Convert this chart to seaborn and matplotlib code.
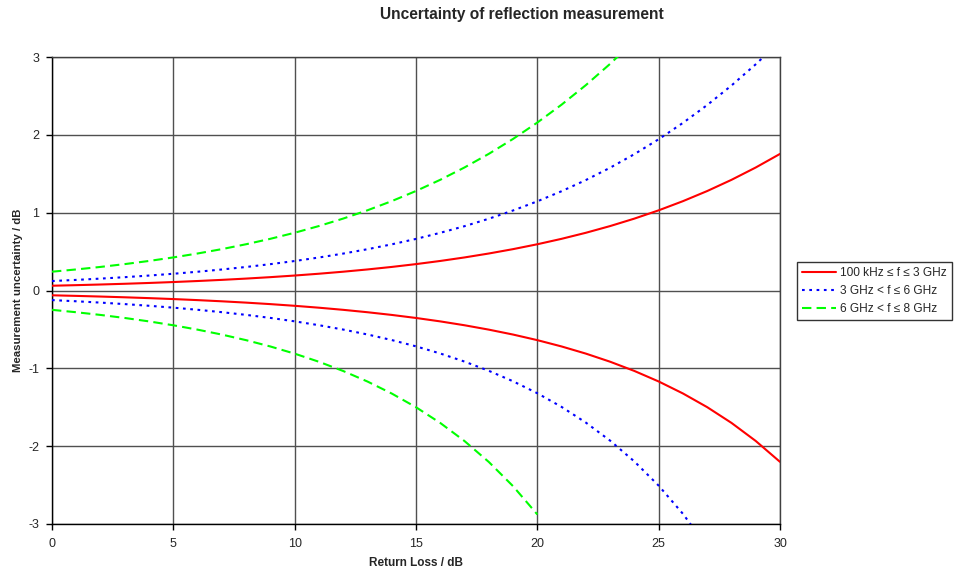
import numpy as np
import pandas as pd
import matplotlib
matplotlib.use("Agg")
import matplotlib.pyplot as plt
import seaborn as sns

# Return loss (dB)
rl_red = list(range(0, 31))
red_upper = [0.0613, 0.0687, 0.0770, 0.0864, 0.0969, 0.1087, 0.1219, 0.1366, 0.1531, 0.1716,
             0.1923, 0.2155, 0.2415, 0.2705, 0.3028, 0.3391, 0.3796, 0.4248, 0.4753, 0.5315,
             0.5942, 0.6640, 0.7416, 0.8279, 0.9237, 1.0300, 1.1478, 1.2779, 1.4217, 1.5803, 1.7549]
red_lower = [-0.0617, -0.0692, -0.0777, -0.0873, -0.0980, -0.1100, -0.1236, -0.1388, -0.1558, -0.1750,
             -0.1967, -0.2210, -0.2484, -0.2792, -0.3138, -0.3529, -0.3969, -0.4466, -0.5028, -0.5661,
             -0.6378, -0.7190, -0.8109, -0.9151, -1.0338, -1.1688, -1.3229, -1.4989, -1.7009, -1.9332, -2.2015]

rl_blue_up = list(range(0, 31))
blue_upper = [0.1216, 0.1363, 0.1528, 0.1713, 0.1920, 0.2151, 0.2410, 0.2700, 0.3023, 0.3385,
              0.3789, 0.4240, 0.4743, 0.5305, 0.5931, 0.6628, 0.7412, 0.8264, 0.9221, 1.0282,
              1.1457, 1.2757, 1.4192, 1.5775, 1.7519, 1.9433, 2.1533, 2.3829, 2.6335, 2.9063, 3.2026]
rl_blue_lo = list(range(0, 28))
blue_lower = [-0.1233, -0.1385, -0.1556, -0.1748, -0.1963, -0.2205, -0.2478, -0.2786, -0.3132, -0.3522,
              -0.3962, -0.4458, -0.5018, -0.5650, -0.6366, -0.7175, -0.8093, -0.9134, -1.0317, -1.1665,
              -1.3201, -1.4958, -1.6973, -1.9291, -2.1968, -2.5073, -2.8695, -3.2945]

rl_green_up = list(range(0, 25))
green_upper = [0.2416, 0.2706, 0.3030, 0.3392, 0.3797, 0.4250, 0.4755, 0.5317, 0.5945, 0.6643,
               0.7420, 0.8283, 0.9242, 1.0305, 1.1483, 1.2785, 1.4224, 1.5810, 1.7556, 1.9474,
               2.1577, 2.3878, 2.6388, 2.9122, 3.2090]
rl_green_lo = list(range(0, 21))
green_lower = [-0.2485, -0.2793, -0.3140, -0.3530, -0.3971, -0.4469, -0.5030, -0.5664, -0.6382, -0.7193,
               -0.8113, -0.9157, -1.0344, -1.1694, -1.3236, -1.4997, -1.7018, -1.9343, -2.2028, -2.5142,
               -2.8775]

labels = ["100 kHz \u2264 f \u2264 3 GHz", "3 GHz < f \u2264 6 GHz", "6 GHz < f \u2264 8 GHz"]
x_ticks = [0, 5, 10, 15, 20, 25, 30]
y_ticks = [-3, -2, -1, 0, 1, 2, 3]

sns.set_style("white")
plt.rcParams['font.family'] = ['Liberation Sans', 'DejaVu Sans']
plt.rcParams['axes.unicode_minus'] = False

fig = plt.figure(figsize=(9.55, 5.72), dpi=100)
ax = fig.add_axes([52/955, 1-524/572, (780-52)/955, (524-57)/572])

styles = [
    dict(color="#FF0000", linestyle="-"),
    dict(color="#0000FF", linestyle=(0, (1.3, 2.2))),
    dict(color="#00FF00", linestyle=(0, (4.5, 2.5))),
]
series = [
    (rl_red, red_upper, rl_red, red_lower),
    (rl_blue_up, blue_upper, rl_blue_lo, blue_lower),
    (rl_green_up, green_upper, rl_green_lo, green_lower),
]

handles = []
for (xu, yu, xl, yl), st, lab in zip(series, styles, labels):
    df_u = pd.DataFrame({"rl": xu, "u": yu})
    df_l = pd.DataFrame({"rl": xl, "u": yl})
    sns.lineplot(data=df_u, x="rl", y="u", ax=ax, color=st["color"], lw=1.5, zorder=3)
    ax.lines[-1].set_linestyle(st["linestyle"])
    handles.append(ax.lines[-1])
    sns.lineplot(data=df_l, x="rl", y="u", ax=ax, color=st["color"], lw=1.5, zorder=3)
    ax.lines[-1].set_linestyle(st["linestyle"])

ax.set_xlim(0, 30)
ax.set_ylim(-3, 3)
ax.set_xticks(x_ticks)
ax.set_yticks(y_ticks)
ax.grid(True, color="#505050", lw=1.0, zorder=1)
for s in ax.spines.values():
    s.set_color("#404040")
    s.set_linewidth(1.0)
ax.spines["left"].set_color("black")
ax.spines["bottom"].set_color("black")
ax.tick_params(axis="both", direction="out", length=4, width=1, color="black",
               labelsize=9, bottom=True, left=True)
ax.tick_params(axis="y", pad=5)
ax.tick_params(axis="x", pad=6)
ax.set_xlabel("Return Loss / dB", fontsize=8.5, fontweight="bold", labelpad=5)
ax.set_ylabel("Measurement uncertainty / dB", fontsize=8.2, fontweight="bold", labelpad=4)
fig.suptitle("Uncertainty of reflection measurement", x=522/955, y=1-15/572,
             fontsize=11.2, fontweight="bold", va="center")

leg = ax.legend(handles, labels, loc="upper left", bbox_to_anchor=(797/955, 1-262/572),
                bbox_transform=fig.transFigure, fontsize=8.6, frameon=True, fancybox=False,
                edgecolor="black", handlelength=2.9, borderpad=0.4, labelspacing=0.5,
                handletextpad=0.3, borderaxespad=0)
leg.get_frame().set_linewidth(1.0)

fig.savefig("out.png", dpi=100)
